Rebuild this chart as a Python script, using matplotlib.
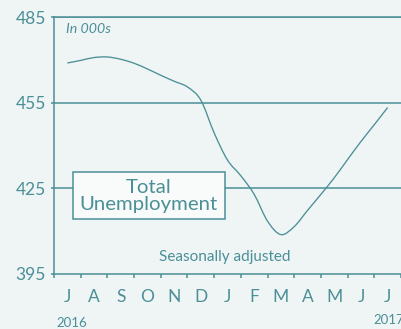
import numpy as np
import matplotlib.pyplot as plt
from matplotlib.path import Path
from matplotlib.patches import PathPatch

# half-month readings, Jul 2016 .. Jul 2017 (thousands)
months = ["J", "A", "S", "O", "N", "D", "J", "F", "M", "A", "M", "J", "J"]
years = ["2016", "2017"]
unemp = [468.9, 469.8, 470.8, 471.0, 470.2, 468.8, 466.8, 464.6, 462.5,
         460.5, 455.9, 444.4, 434.9, 429.4, 422.9, 413.5, 408.8, 411.6,
         417.3, 422.9, 428.7, 435.1, 441.4, 447.3, 453.3]
yticks = [395, 425, 455, 485]

teal = "#4b8f97"
bg = "#eff4f5"
plt.rcParams["font.family"] = ["Lato", "DejaVu Sans"]

fig = plt.figure(figsize=(4.01, 3.29), dpi=100, facecolor=bg)
ax = fig.add_axes([54/401, 1 - 274/329, 1 - 54/401, (274 - 17)/329])
ax.set_facecolor(bg)

# smooth line through the readings (Catmull-Rom as cubic Bezier)
pts = np.column_stack([np.arange(len(unemp)) / 2, unemp])
ext = np.vstack([pts[0], pts, pts[-1]])
verts = [pts[0]]
codes = [Path.MOVETO]
for i in range(1, len(ext) - 2):
    p0, p1, p2, p3 = ext[i - 1], ext[i], ext[i + 1], ext[i + 2]
    verts += [p1 + (p2 - p0) / 6, p2 - (p3 - p1) / 6, p2]
    codes += [Path.CURVE4] * 3
ax.add_patch(PathPatch(Path(verts, codes), fill=False, ec=teal, lw=0.95, zorder=3))

ax.set_ylim(395, 485)
ax.set_xlim(-0.5, (401 - 68) / 27.1)
for v in yticks[1:]:
    ax.axhline(v, color=teal, lw=1.1, zorder=1)

ax.spines["right"].set_visible(False)
for s in ["left", "bottom", "top"]:
    ax.spines[s].set_color(teal)
    ax.spines[s].set_linewidth(1.1)

ax.set_yticks(yticks)
ax.tick_params(axis="y", colors=teal, labelsize=12.5, length=2, width=1.1, pad=4)
ax.set_xticks(np.arange(-0.5, 13, 1))
ax.set_xticklabels([])
ax.tick_params(axis="x", which="major", colors=teal, length=3, width=1.1)
ax.set_xticks(np.arange(len(months)), minor=True)
ax.set_xticklabels(months, minor=True)
ax.tick_params(axis="x", which="minor", colors=teal, labelsize=12.5, length=0, pad=10.5)

fig.text(66/401, 1 - 29/329, "In 000s", color=teal, fontsize=10.2, style="italic",
         va="center", ha="left")
fig.text(56/401, 1 - 323/329, years[0], color=teal, fontsize=9.5, va="center", ha="left")
fig.text(373/401, 1 - 320/329, years[1], color=teal, fontsize=9.5, va="center", ha="left")

ax.text(3.05, 422.4, "Total\nUnemployment", color=teal, fontsize=14.7, ha="center",
        va="center", linespacing=1.0, zorder=4,
        bbox=dict(boxstyle="square,pad=0.33", fc="#f9fbfb", ec=teal, lw=1.1))
ax.text(5.89, 400.9, "Seasonally adjusted", color=teal, fontsize=11, ha="center", va="center")

fig.savefig("out.png", dpi=100, facecolor=bg)
